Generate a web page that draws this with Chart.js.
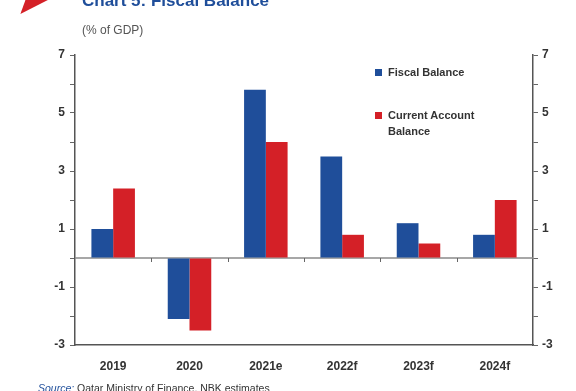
<!DOCTYPE html>
<html>
<head>
<meta charset="utf-8">
<script src="https://cdn.jsdelivr.net/npm/chart.js@4"></script>
<style>
  html, body { margin: 0; padding: 0; background: #fff; }
  #wrap { position: relative; width: 576px; height: 391px; overflow: hidden; font-family: "Liberation Sans", Arial, sans-serif; }
  #c { position: absolute; left: 0; top: 0; }
  .flag { position: absolute; left: 24px; top: -6px; width: 0; height: 0;
          border-top: 20px solid #d42027; border right: 0; border-right: 32px solid transparent; transform: skewX(-20deg); }
  .title { position: absolute; left: 82px; top: -9px; font-size: 17px; font-weight: bold; color: #1f4e9a; white-space: nowrap; }
  .sub { position: absolute; left: 82px; top: 23px; font-size: 12px; color: #555; white-space: nowrap; }
  .src { position: absolute; left: 38px; top: 382px; font-size: 10.5px; color: #333; white-space: nowrap; }
  .src i { color: #1f4e9a; }
  .leg { position: absolute; font-size: 11px; font-weight: bold; color: #333; line-height: 16px; }
  .leg span.sw { position: absolute; left: -13px; top: 5px; width: 7px; height: 7px; }
</style>
</head>
<body>
<div id="wrap">
  <canvas id="c" width="576" height="391"></canvas>
  <div class="flag"></div>
  <div class="title">Chart 5: Fiscal Balance</div>
  <div class="sub">(% of GDP)</div>
  <div class="leg" style="left:388px; top:64px;"><span class="sw" style="background:#1f4e9a"></span>Fiscal Balance</div>
  <div class="leg" style="left:388px; top:107px;"><span class="sw" style="background:#d42027"></span>Current Account<br>Balance</div>
  <div class="src"><i>Source:</i> Qatar Ministry of Finance, NBK estimates</div>
</div>
<script>
const categories = ["2019", "2020", "2021e", "2022f", "2023f", "2024f"];
const fiscalBalance = [1.0, -2.1, 5.8, 3.5, 1.2, 0.8];
const currentAccount = [2.4, -2.5, 4.0, 0.8, 0.5, 2.0];
const yMin = -3, yMax = 7;
const labeledTicks = [7, 5, 3, 1, -1, -3];

const zeroLine = {
  id: 'zeroLine',
  beforeDatasetsDraw(chart) {
    const { ctx, chartArea, scales } = chart;
    const y = scales.y.getPixelForValue(0);
    ctx.save();
    ctx.strokeStyle = '#8a8a8a';
    ctx.lineWidth = 1.5;
    ctx.beginPath();
    ctx.moveTo(chartArea.left, y);
    ctx.lineTo(chartArea.right, y);
    ctx.stroke();
    ctx.strokeStyle = '#666';
    ctx.lineWidth = 1;
    for (let i = 1; i < categories.length; i++) {
      const x = Math.round(scales.x.getPixelForValue(i - 0.5)) + 0.5;
      ctx.beginPath();
      ctx.moveTo(x, y);
      ctx.lineTo(x, y + 4);
      ctx.stroke();
    }
    ctx.restore();
  }
};

const tickFont = { family: '"Liberation Sans", Arial, sans-serif', size: 12, weight: 'bold' };
function yAxis(position) {
  return {
    position,
    min: yMin, max: yMax,
    afterFit: s => { s.width = position === 'left' ? 75 : 43; },
    ticks: {
      stepSize: 1,
      autoSkip: false,
      padding: position === 'left' ? 5 : 4,
      color: '#333',
      font: tickFont,
      callback: v => labeledTicks.includes(v) ? String(v) : ''
    },
    grid: { drawOnChartArea: false, drawTicks: true, tickLength: 5, color: '#666' },
    border: { display: true, color: '#555', width: 1.5 }
  };
}

new Chart(document.getElementById('c'), {
  type: 'bar',
  data: {
    labels: categories,
    datasets: [
      { label: 'Fiscal Balance', data: fiscalBalance, backgroundColor: '#1f4e9a', categoryPercentage: 0.57, barPercentage: 1.0 },
      { label: 'Current Account Balance', data: currentAccount, backgroundColor: '#d42027', categoryPercentage: 0.57, barPercentage: 1.0 }
    ]
  },
  options: {
    responsive: false,
    animation: false,
    layout: { padding: { top: 55, left: 0, right: 0, bottom: 0 } },
    plugins: { legend: { display: false }, tooltip: { enabled: false } },
    scales: {
      x: {
        afterFit: s => { s.height = 46; },
        grid: { display: false },
        border: { display: true, color: '#555', width: 1.5 },
        ticks: { color: '#333', font: tickFont, padding: 6 }
      },
      y: yAxis('left'),
      y2: yAxis('right')
    }
  },
  plugins: [zeroLine]
});
</script>
</body>
</html>
